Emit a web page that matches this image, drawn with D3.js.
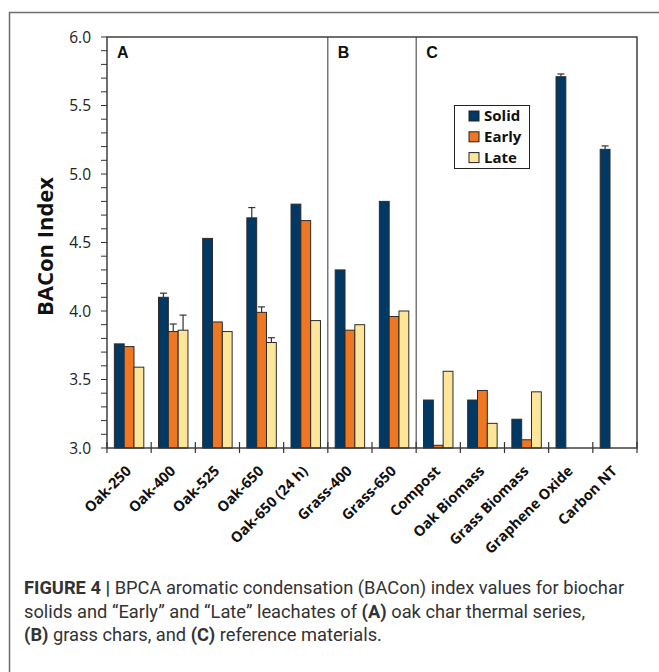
<!DOCTYPE html>
<html>
<head>
<meta charset="utf-8">
<script src="https://cdn.jsdelivr.net/npm/d3@7"></script>
<style>
  html, body { margin: 0; padding: 0; background: #fff; }
  svg { display: block; }
</style>
</head>
<body>
<svg id="chart" width="659" height="672"></svg>
<script>
// BACon index per sample; null where a fraction was not measured
const categories = ["Oak-250", "Oak-400", "Oak-525", "Oak-650", "Oak-650 (24 h)",
  "Grass-400", "Grass-650", "Compost", "Oak Biomass", "Grass Biomass",
  "Graphene Oxide", "Carbon NT"];
const series = ["Solid", "Early", "Late"];
const solid = [3.76, 4.10, 4.53, 4.68, 4.78, 4.30, 4.80, 3.35, 3.35, 3.21, 5.71, 5.18];
const early = [3.74, 3.85, 3.92, 3.99, 4.66, 3.86, 3.96, 3.02, 3.42, 3.06, null, null];
const late  = [3.59, 3.86, 3.85, 3.77, 3.93, 3.90, 4.00, 3.56, 3.18, 3.41, null, null];
// upper error bar lengths
const solidErr = [null, 0.03, null, 0.075, null, null, null, null, null, null, 0.02, 0.025];
const earlyErr = [null, 0.055, null, 0.04, null, null, null, null, null, null, null, null];
const lateErr  = [null, 0.11, null, 0.035, null, null, null, null, null, null, null, null];
const yTicks = [3.0, 3.5, 4.0, 4.5, 5.0, 5.5, 6.0];
const panels = [{ label: "A", start: 0 }, { label: "B", start: 5 }, { label: "C", start: 7 }];
const caption = [
  [{ t: "FIGURE 4 | ", b: true }, { t: "BPCA aromatic condensation (BACon) index values for biochar" }],
  [{ t: "solids and \u201CEarly\u201D and \u201CLate\u201D leachates of " }, { t: "(A)", b: true }, { t: " oak char thermal series," }],
  [{ t: "(B)", b: true }, { t: " grass chars, and " }, { t: "(C)", b: true }, { t: " reference materials." }]
];

const colors = { Solid: "#023864", Early: "#ED7723", Late: "#FDE69A" };
const values = { Solid: solid, Early: early, Late: late };
const errors = { Solid: solidErr, Early: earlyErr, Late: lateErr };

const svg = d3.select("#chart");
const m = { left: 107, top: 37, right: 637, bottom: 448 };
const font = "'Open Sans', 'DejaVu Sans', sans-serif";

// outer figure frame (top and left edges)
svg.append("path")
  .attr("d", "M9.5,672V12.5H659")
  .attr("fill", "none").attr("stroke", "#6e6e6e").attr("stroke-width", 1.5);

const x = d3.scaleBand().domain(categories).range([m.left, m.right]).padding(0);
const bw = x.bandwidth();
const xs = d3.scaleBand().domain(series).range([bw / 6, bw * 5 / 6]).padding(0);
const y = d3.scaleLinear().domain([3, 6]).range([m.bottom, m.top]);

// y axis with minor ticks every 0.1
const minor = d3.range(30, 61).map(v => v / 10);
svg.append("g").selectAll("line").data(minor).join("line")
  .attr("x1", m.left - 6).attr("x2", m.left)
  .attr("y1", d => y(d)).attr("y2", d => y(d))
  .attr("stroke", "#333").attr("stroke-width", 1);
svg.append("g").selectAll("text").data(yTicks).join("text")
  .attr("x", m.left - 16).attr("y", d => y(d)).attr("dy", "0.36em")
  .attr("text-anchor", "end")
  .attr("font-family", font).attr("font-size", 15.5).attr("fill", "#222")
  .text(d => d3.format(".1f")(d));

// bars
const rows = [];
categories.forEach((c, i) => series.forEach(s => {
  if (values[s][i] != null) rows.push({ c, s, v: values[s][i], e: errors[s][i] });
}));
svg.append("g").selectAll("rect").data(rows).join("rect")
  .attr("x", d => x(d.c) + xs(d.s))
  .attr("y", d => y(d.v))
  .attr("width", xs.bandwidth())
  .attr("height", d => y(3) - y(d.v))
  .attr("fill", d => colors[d.s])
  .attr("stroke", "#2b2b2b").attr("stroke-width", 1);

// upper error bars
const eb = svg.append("g").attr("stroke", "#333").attr("stroke-width", 1.2);
rows.filter(d => d.e != null).forEach(d => {
  const cx = x(d.c) + xs(d.s) + xs.bandwidth() / 2;
  eb.append("line").attr("x1", cx).attr("x2", cx).attr("y1", y(d.v)).attr("y2", y(d.v + d.e));
  eb.append("line").attr("x1", cx - 3.5).attr("x2", cx + 3.5).attr("y1", y(d.v + d.e)).attr("y2", y(d.v + d.e));
});

// plot frame and panel dividers
svg.append("rect")
  .attr("x", m.left).attr("y", m.top)
  .attr("width", m.right - m.left).attr("height", m.bottom - m.top)
  .attr("fill", "none").attr("stroke", "#333").attr("stroke-width", 1.4);
panels.slice(1).forEach(p => {
  const px = x(categories[p.start]);
  svg.append("line").attr("x1", px).attr("x2", px).attr("y1", m.top).attr("y2", m.bottom)
    .attr("stroke", "#333").attr("stroke-width", 1);
});
panels.forEach(p => {
  svg.append("text")
    .attr("x", x(categories[p.start]) + 10).attr("y", m.top + 21)
    .attr("font-family", "'Liberation Sans', Arial, sans-serif").attr("font-weight", "bold")
    .attr("font-size", 16).attr("fill", "#111").text(p.label);
});

// x axis ticks at category boundaries
const bounds = categories.map(c => x(c)).concat([m.right]);
svg.append("g").selectAll("line").data(bounds).join("line")
  .attr("x1", d => d).attr("x2", d => d)
  .attr("y1", m.bottom - 6).attr("y2", m.bottom + 5)
  .attr("stroke", "#333").attr("stroke-width", 1.2);

// rotated category labels
svg.append("g").selectAll("text").data(categories).join("text")
  .attr("transform", c => `translate(${x(c) + bw / 2 + 3},${m.bottom + 24}) rotate(-45)`)
  .attr("text-anchor", "end")
  .attr("font-family", font).attr("font-weight", 700).attr("font-size", 14.5).attr("fill", "#111")
  .text(c => c);

// y axis title
svg.append("text")
  .attr("transform", `translate(53,${(m.top + m.bottom) / 2 + 4}) rotate(-90)`)
  .attr("text-anchor", "middle")
  .attr("font-family", font).attr("font-weight", 700).attr("font-size", 22).attr("fill", "#111")
  .text("BACon Index");

// legend
const lg = svg.append("g").attr("transform", "translate(454.5,105.5)");
lg.append("rect").attr("width", 75).attr("height", 63)
  .attr("fill", "#fff").attr("stroke", "#222").attr("stroke-width", 1);
series.forEach((s, i) => {
  const cy = 10.5 + i * 20.8;
  lg.append("rect").attr("x", 14.5).attr("y", cy - 5).attr("width", 10).attr("height", 10)
    .attr("fill", colors[s]).attr("stroke", "#222").attr("stroke-width", 1);
  lg.append("text").attr("x", 29.5).attr("y", cy).attr("dy", "0.36em")
    .attr("font-family", font).attr("font-weight", 700).attr("font-size", 15).attr("fill", "#111")
    .text(s);
});

// caption
caption.forEach((line, i) => {
  const t = svg.append("text").attr("x", 24).attr("y", 594 + i * 23.5)
    .attr("font-family", "Roboto, 'Liberation Sans', sans-serif")
    .attr("font-size", 18.3).attr("fill", "#333");
  line.forEach(seg => t.append("tspan").attr("font-weight", seg.b ? 700 : 400).text(seg.t));
});
</script>
</body>
</html>
